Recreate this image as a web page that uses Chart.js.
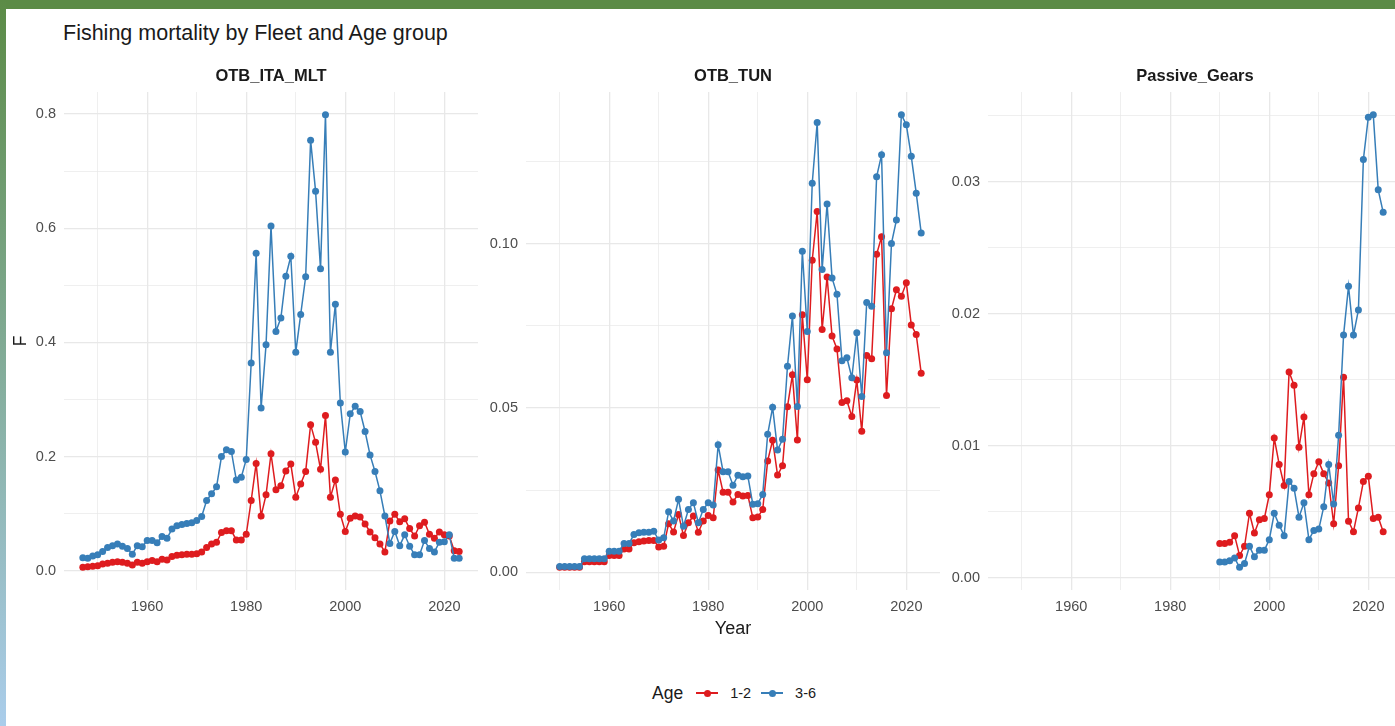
<!DOCTYPE html>
<html>
<head>
<meta charset="utf-8">
<title>Fishing mortality by Fleet and Age group</title>
<script src="https://cdn.jsdelivr.net/npm/chart.js@4.4.1/dist/chart.umd.min.js"></script>
<style>
  html, body { margin: 0; padding: 0; }
  body {
    width: 1395px; height: 726px; overflow: hidden; position: relative;
    background: #fff; font-family: "Liberation Sans", Arial, sans-serif;
  }
  .panel { position: absolute; top: 58px; }
  .title { position: absolute; left: 63px; top: 20px; font-size: 21.5px; line-height: 26px; color: #1a1a1a; }
  .legend { position: absolute; left: 652px; top: 680px; height: 26px; display: flex; align-items: center; color: #1a1a1a; }
  .legend .lg-title { font-size: 17.5px; margin-right: 13px; }
  .legend .key { position: relative; width: 22px; height: 10px; margin-right: 12px; }
  .legend .key::before { content: ""; position: absolute; left: 0; right: 0; top: 4.2px; height: 1.6px; background: var(--c); }
  .legend .key::after { content: ""; position: absolute; left: 7.5px; top: 1.5px; width: 7px; height: 7px; border-radius: 50%; background: var(--c); }
  .legend .lg-label { font-size: 14.5px; margin-right: 10px; }
  .bar-top { position: absolute; left: 0; top: 0; width: 1395px; height: 9px; background: #5b8b46; }
  .bar-left { position: absolute; left: 0; top: 0; width: 6px; height: 726px; background: linear-gradient(#5b8b46, #aacdeb); }
</style>
</head>
<body>
<div class="title">Fishing mortality by Fleet and Age group</div>
<div class="panel" style="left:6px"><canvas id="p1" width="476" height="582"></canvas></div>
<div class="panel" style="left:466px"><canvas id="p2" width="478" height="582"></canvas></div>
<div class="panel" style="left:928px"><canvas id="p3" width="478" height="582"></canvas></div>
<div class="legend" id="legend"></div>
<div class="bar-top"></div>
<div class="bar-left"></div>

<script>
// fleets and age groups
const fleetNames = ['OTB_ITA_MLT', 'OTB_TUN', 'Passive_Gears'];
const ageLabels = ['1-2', '3-6'];
const ageColors = ['#de1c1f', '#377eb8'];

// years per fleet
const yearsITA = [
  1947, 1948, 1949, 1950, 1951, 1952, 1953, 1954, 1955, 1956,
  1957, 1958, 1959, 1960, 1961, 1962, 1963, 1964, 1965, 1966,
  1967, 1968, 1969, 1970, 1971, 1972, 1973, 1974, 1975, 1976,
  1977, 1978, 1979, 1980, 1981, 1982, 1983, 1984, 1985, 1986,
  1987, 1988, 1989, 1990, 1991, 1992, 1993, 1994, 1995, 1996,
  1997, 1998, 1999, 2000, 2001, 2002, 2003, 2004, 2005, 2006,
  2007, 2008, 2009, 2010, 2011, 2012, 2013, 2014, 2015, 2016,
  2017, 2018, 2019, 2020, 2021, 2022, 2023
];
const yearsTUN = [
  1950, 1951, 1952, 1953, 1954, 1955, 1956, 1957, 1958, 1959,
  1960, 1961, 1962, 1963, 1964, 1965, 1966, 1967, 1968, 1969,
  1970, 1971, 1972, 1973, 1974, 1975, 1976, 1977, 1978, 1979,
  1980, 1981, 1982, 1983, 1984, 1985, 1986, 1987, 1988, 1989,
  1990, 1991, 1992, 1993, 1994, 1995, 1996, 1997, 1998, 1999,
  2000, 2001, 2002, 2003, 2004, 2005, 2006, 2007, 2008, 2009,
  2010, 2011, 2012, 2013, 2014, 2015, 2016, 2017, 2018, 2019,
  2020, 2021, 2022, 2023
];
const yearsPAS = [
  1990, 1991, 1992, 1993, 1994, 1995, 1996, 1997, 1998, 1999,
  2000, 2001, 2002, 2003, 2004, 2005, 2006, 2007, 2008, 2009,
  2010, 2011, 2012, 2013, 2014, 2015, 2016, 2017, 2018, 2019,
  2020, 2021, 2022, 2023
];

// fishing mortality F, age 1-2 and 3-6
const ita12 = [
  0.006, 0.007, 0.008, 0.009, 0.012, 0.013, 0.015, 0.016, 0.015, 0.013,
  0.010, 0.015, 0.013, 0.016, 0.018, 0.016, 0.020, 0.019, 0.025, 0.027,
  0.028, 0.029, 0.029, 0.030, 0.033, 0.041, 0.047, 0.050, 0.067, 0.070,
  0.070, 0.054, 0.054, 0.064, 0.123, 0.188, 0.096, 0.133, 0.205, 0.142,
  0.149, 0.175, 0.187, 0.129, 0.152, 0.174, 0.256, 0.225, 0.178, 0.272,
  0.129, 0.159, 0.099, 0.069, 0.092, 0.096, 0.094, 0.082, 0.068, 0.058,
  0.047, 0.033, 0.087, 0.099, 0.086, 0.091, 0.074, 0.061, 0.079, 0.085,
  0.064, 0.057, 0.068, 0.063, 0.061, 0.035, 0.034
];
const ita36 = [
  0.023, 0.022, 0.026, 0.028, 0.034, 0.041, 0.044, 0.047, 0.043, 0.039,
  0.029, 0.044, 0.042, 0.053, 0.053, 0.049, 0.060, 0.057, 0.073, 0.079,
  0.081, 0.083, 0.084, 0.088, 0.095, 0.123, 0.135, 0.147, 0.200, 0.212,
  0.209, 0.159, 0.164, 0.195, 0.364, 0.556, 0.285, 0.396, 0.604, 0.419,
  0.443, 0.516, 0.551, 0.383, 0.449, 0.515, 0.754, 0.665, 0.529, 0.799,
  0.383, 0.467, 0.294, 0.208, 0.275, 0.288, 0.279, 0.244, 0.203, 0.174,
  0.140, 0.096, 0.048, 0.069, 0.044, 0.063, 0.043, 0.028, 0.028, 0.053,
  0.039, 0.033, 0.050, 0.051, 0.063, 0.022, 0.022
];
const tun12 = [
  0.0015, 0.0015, 0.0015, 0.0015, 0.0015, 0.0032, 0.0032, 0.0032, 0.0032, 0.0032,
  0.0051, 0.0051, 0.0051, 0.0071, 0.0071, 0.0090, 0.0093, 0.0095, 0.0097, 0.0097,
  0.0077, 0.0079, 0.0148, 0.0123, 0.0176, 0.0112, 0.0151, 0.0171, 0.0122, 0.0156,
  0.0173, 0.0166, 0.0311, 0.0244, 0.0244, 0.0214, 0.0237, 0.0232, 0.0234, 0.0166,
  0.0168, 0.0191, 0.0339, 0.0402, 0.0296, 0.0324, 0.0504, 0.0601, 0.0403, 0.0784,
  0.0586, 0.0950, 0.1098, 0.0739, 0.0899, 0.0719, 0.0680, 0.0517, 0.0522, 0.0474,
  0.0585, 0.0429, 0.0660, 0.0650, 0.0968, 0.1021, 0.0538, 0.0802, 0.0860, 0.0840,
  0.0881, 0.0753, 0.0724, 0.0606
];
const tun36 = [
  0.0018, 0.0018, 0.0018, 0.0018, 0.0018, 0.0041, 0.0041, 0.0041, 0.0041, 0.0041,
  0.0064, 0.0064, 0.0064, 0.0088, 0.0088, 0.0115, 0.0120, 0.0122, 0.0122, 0.0125,
  0.0098, 0.0105, 0.0184, 0.0156, 0.0222, 0.0140, 0.0191, 0.0212, 0.0151, 0.0191,
  0.0212, 0.0205, 0.0388, 0.0306, 0.0306, 0.0265, 0.0295, 0.0291, 0.0293, 0.0207,
  0.0209, 0.0237, 0.0420, 0.0502, 0.0372, 0.0405, 0.0627, 0.0780, 0.0505, 0.0977,
  0.0733, 0.1184, 0.1369, 0.0922, 0.1121, 0.0896, 0.0846, 0.0644, 0.0653, 0.0592,
  0.0729, 0.0535, 0.0821, 0.0810, 0.1204, 0.1271, 0.0668, 0.1001, 0.1072, 0.1393,
  0.1362, 0.1266, 0.1154, 0.1033
];
const pas12 = [
  0.0026, 0.0026, 0.0027, 0.0032, 0.0017, 0.0024, 0.0049, 0.0034, 0.0044, 0.0045,
  0.0063, 0.0106, 0.0086, 0.0070, 0.0156, 0.0146, 0.0099, 0.0122, 0.0063, 0.0079,
  0.0088, 0.0079, 0.0072, 0.0041, 0.0085, 0.0152, 0.0043, 0.0035, 0.0053, 0.0073,
  0.0077, 0.0045, 0.0046, 0.0035
];
const pas36 = [
  0.0012, 0.0012, 0.0013, 0.0015, 0.0008, 0.0011, 0.0024, 0.0016, 0.0021, 0.0021,
  0.0029, 0.0049, 0.0040, 0.0032, 0.0073, 0.0068, 0.0046, 0.0057, 0.0029, 0.0036,
  0.0037, 0.0054, 0.0086, 0.0056, 0.0108, 0.0184, 0.0221, 0.0184, 0.0203, 0.0317,
  0.0349, 0.0351, 0.0294, 0.0277
];

// axis ticks (major get labels, minor only grid lines)
const xMajor = [1960, 1980, 2000, 2020];
const xMinor = [1950, 1970, 1990, 2010];
const yMajorITA = [0, 0.2, 0.4, 0.6, 0.8];
const yMinorITA = [0.1, 0.3, 0.5, 0.7];
const yMajorTUN = [0, 0.05, 0.1];
const yMinorTUN = [0.025, 0.075, 0.125];
const yMajorPAS = [0, 0.01, 0.02, 0.03];
const yMinorPAS = [0.005, 0.015, 0.025, 0.035];

const FONT = "'Liberation Sans', Arial, sans-serif";
const GRID = '#e8e8e8';
Chart.defaults.font.family = FONT;

// shared x range, expanded 5% like ggplot
const allYears = [...yearsITA, ...yearsTUN, ...yearsPAS];
const xLo = Math.min(...allYears), xHi = Math.max(...allYears);
const xPad = (xHi - xLo) * 0.05;

function toPoints(years, vals) {
    return years.map((yr, i) => ({ x: yr, y: vals[i] }));
}

function makePanel(id, name, years, s12, s36, yMajor, yMinor, digits, yWidth, showF, showYear) {
    const lo = Math.min(...s12, ...s36), hi = Math.max(...s12, ...s36);
    const yPad = (hi - lo) * 0.05;
    const series = [s12, s36];

    const datasets = series.map((s, i) => ({
        label: ageLabels[i],
        data: toPoints(years, s),
        borderColor: ageColors[i],
        backgroundColor: ageColors[i],
        borderWidth: 1.5,
        pointRadius: 3.5,
        pointBorderWidth: 0,
        pointBackgroundColor: ageColors[i],
        order: i === 1 ? 0 : 1 // 3-6 on top
    }));

    new Chart(document.getElementById(id), {
        type: 'line',
        data: { datasets },
        options: {
            responsive: false,
            animation: false,
            events: [],
            layout: { padding: 0 },
            plugins: {
                legend: { display: false },
                tooltip: { enabled: false },
                title: {
                    display: true,
                    text: name,
                    fullSize: false,
                    color: '#1a1a1a',
                    font: { size: 16.5, weight: 'bold', lineHeight: 1.2 },
                    padding: { top: 9, bottom: 5.2 }
                }
            },
            scales: {
                x: {
                    type: 'linear',
                    min: xLo - xPad,
                    max: xHi + xPad,
                    afterBuildTicks: (axis) => {
                        axis.ticks = [...xMajor, ...xMinor].sort((a, b) => a - b).map(v => ({ value: v }));
                    },
                    afterFit: (axis) => { axis.height = 50; },
                    border: { display: false },
                    grid: {
                        color: GRID,
                        drawTicks: false,
                        lineWidth: c => (c.tick && xMajor.includes(c.tick.value)) ? 1.3 : 0.7
                    },
                    ticks: {
                        autoSkip: false,
                        maxRotation: 0,
                        padding: 8,
                        color: '#4d4d4d',
                        font: { size: 14.5 },
                        callback: v => xMajor.includes(v) ? String(v) : ''
                    },
                    title: {
                        display: showYear,
                        text: 'Year',
                        color: '#1a1a1a',
                        font: { size: 18 },
                        padding: { top: 0, bottom: 0 }
                    }
                },
                y: {
                    min: lo - yPad,
                    max: hi + yPad,
                    afterBuildTicks: (axis) => {
                        axis.ticks = [...yMajor, ...yMinor].sort((a, b) => a - b).map(v => ({ value: v }));
                    },
                    afterFit: (axis) => { axis.width = yWidth; },
                    border: { display: false },
                    grid: {
                        color: GRID,
                        drawTicks: false,
                        lineWidth: c => (c.tick && yMajor.includes(c.tick.value)) ? 1.3 : 0.7
                    },
                    ticks: {
                        autoSkip: false,
                        padding: 8,
                        color: '#4d4d4d',
                        font: { size: 14.5 },
                        callback: v => yMajor.includes(v) ? v.toFixed(digits) : ''
                    },
                    title: {
                        display: showF,
                        text: 'F',
                        color: '#1a1a1a',
                        font: { size: 17.5 },
                        padding: { top: 5, bottom: 0 }
                    }
                }
            }
        }
    });
}

makePanel('p1', fleetNames[0], yearsITA, ita12, ita36, yMajorITA, yMinorITA, 1, 58, true, false);
makePanel('p2', fleetNames[1], yearsTUN, tun12, tun36, yMajorTUN, yMinorTUN, 2, 60, false, true);
makePanel('p3', fleetNames[2], yearsPAS, pas12, pas36, yMajorPAS, yMinorPAS, 2, 60, false, false);

// legend at the bottom
const legend = document.getElementById('legend');
let html = '<span class="lg-title">Age</span>';
ageLabels.forEach((lab, i) => {
    html += '<span class="key" style="--c:' + ageColors[i] + '"></span><span class="lg-label">' + lab + '</span>';
});
legend.innerHTML = html;
</script>
</body>
</html>
